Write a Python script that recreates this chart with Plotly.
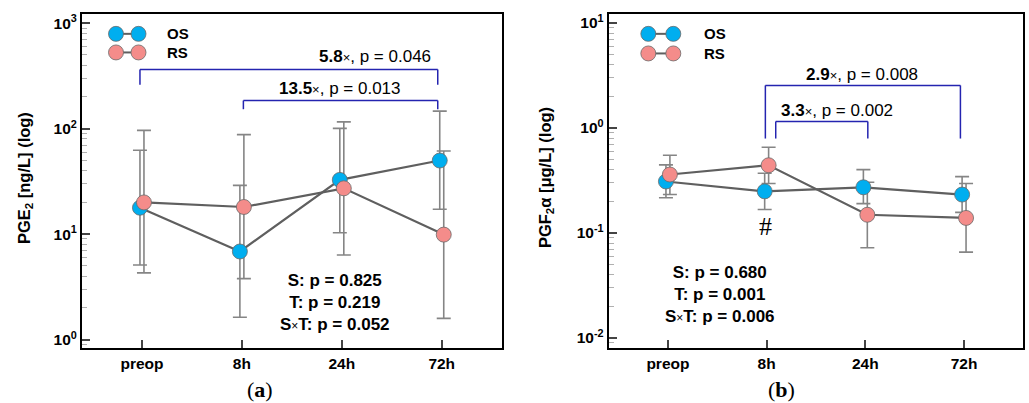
import numpy as np
import plotly.graph_objects as go

W, H = 1029, 403

timepoints = ["preop", "8h", "24h", "72h"]

# Panel (a): PGE2 [ng/L]
pge2_os = [17.8, 6.85, 32.7, 49.9]
pge2_os_upper = [62.5, 29.0, 100.6, 146.6]
pge2_os_lower = [5.1, 1.63, 10.3, 17.2]
pge2_rs = [20.0, 18.1, 27.2, 9.9]
pge2_rs_upper = [96.4, 87.8, 116.0, 61.5]
pge2_rs_lower = [4.29, 3.79, 6.34, 1.59]

# Panel (b): PGF2alpha [ug/L]
pgf2a_os = [0.309, 0.249, 0.272, 0.232]
pgf2a_os_upper = [0.445, 0.370, 0.401, 0.344]
pgf2a_os_lower = [0.216, 0.167, 0.190, 0.157]
pgf2a_rs = [0.360, 0.441, 0.149, 0.139]
pgf2a_rs_upper = [0.549, 0.654, 0.304, 0.296]
pgf2a_rs_lower = [0.232, 0.296, 0.0723, 0.0657]

ytick_vals_a = [1, 10, 100, 1000]
ytick_text_a = ["10<sup>0</sup>", "10<sup>1</sup>", "10<sup>2</sup>", "10<sup>3</sup>"]
ytick_vals_b = [0.01, 0.1, 1, 10]
ytick_text_b = ["10<sup>-2</sup>", "10<sup>-1</sup>", "10<sup>0</sup>", "10<sup>1</sup>"]

stats_a = ["0.825", "0.219", "0.052"]
stats_b = ["0.680", "0.001", "0.006"]

OS_COLOR = "#00AEEF"
RS_COLOR = "#F48C8A"
LINE_COLOR = "#5F5F5F"
ERR_COLOR = "#858585"
BRACKET = "#2424B0"
FONT = "Liberation Sans"

fig = go.Figure()

def px_x(p):
    return p / W

def px_y(p):
    return 1 - p / H

def add_panel(xa, ya, os_v, os_u, os_l, rs_v, rs_u, rs_l):
    idx = np.arange(len(timepoints))
    series = [
        (idx - 0.02, os_v, os_u, os_l, OS_COLOR),
        (idx + 0.02, rs_v, rs_u, rs_l, RS_COLOR),
    ]
    for xs, v, u, l, c in series:
        v = np.array(v); u = np.array(u); l = np.array(l)
        fig.add_trace(go.Scatter(
            x=xs, y=v, mode="lines", xaxis=xa, yaxis=ya, showlegend=False,
            line=dict(color=LINE_COLOR, width=2.2),
            error_y=dict(type="data", symmetric=False, array=u - v,
                         arrayminus=v - l, color=ERR_COLOR, thickness=1.6,
                         width=7),
        ))
    for xs, v, u, l, c in series:
        fig.add_trace(go.Scatter(
            x=xs, y=v, mode="markers", xaxis=xa, yaxis=ya, showlegend=False,
            marker=dict(size=15, color=c, line=dict(color="#6A6A6A", width=0.8)),
        ))

add_panel("x", "y", pge2_os, pge2_os_upper, pge2_os_lower,
          pge2_rs, pge2_rs_upper, pge2_rs_lower)
add_panel("x2", "y2", pgf2a_os, pgf2a_os_upper, pgf2a_os_lower,
          pgf2a_rs, pgf2a_rs_upper, pgf2a_rs_lower)

tickfont = dict(family=FONT, size=15.5, color="black", weight="bold")
xcommon = dict(range=[-0.6, 3.6], tickmode="array", tickvals=list(range(4)),
               ticktext=timepoints, ticks="inside", ticklen=8, tickwidth=1.5,
               tickcolor="#444444", showline=True, linecolor="black",
               linewidth=2, mirror=True, showgrid=False, zeroline=False,
               tickfont=tickfont)
ycommon = dict(type="log", tickmode="array", ticks="inside",
               ticklen=8, tickwidth=1.5, tickcolor="#444444", showline=True,
               linecolor="black", linewidth=2, mirror=True, showgrid=False,
               zeroline=False, tickfont=tickfont,
               minor=dict(ticks="inside", ticklen=5, tickcolor="#B0B0B0",
                          tickwidth=1, dtick="D1", showgrid=False))

fig.update_layout(
    width=W, height=H, margin=dict(l=0, r=0, t=0, b=0),
    paper_bgcolor="white", plot_bgcolor="white",
    xaxis=dict(domain=[82 / W, 501.7 / W], anchor="y", **xcommon),
    xaxis2=dict(domain=[608.7 / W, 1023.3 / W], anchor="y2", **xcommon),
    yaxis=dict(domain=[1 - 348 / H, 1 - 12 / H], anchor="x",
               range=[-0.082, 3.088], tickvals=ytick_vals_a,
               ticktext=ytick_text_a, **ycommon),
    yaxis2=dict(domain=[1 - 347.7 / H, 1 - 12 / H], anchor="x2",
                range=[-2.095, 1.085], tickvals=ytick_vals_b,
                ticktext=ytick_text_b, **ycommon),
    font=dict(family=FONT, color="black"),
)

shapes = []
annotations = []

def ann(**kw):
    kw.setdefault("showarrow", False)
    kw.setdefault("xanchor", "center")
    kw.setdefault("yanchor", "middle")
    annotations.append(kw)

def bracket(xref, yref, x0, x1, ytop, ybot0, ybot1):
    for (a, b, c, d) in [(x0, ybot0, x0, ytop), (x0, ytop, x1, ytop), (x1, ytop, x1, ybot1)]:
        shapes.append(dict(type="line", xref=xref, yref=yref, x0=a, y0=b,
                           x1=c, y1=d, line=dict(color=BRACKET, width=1.5)))

def btext(xref, yref, x, y, fold, p):
    ann(xref=xref, yref=yref, x=x, y=y,
        text=f"<b>{fold}</b><span style='font-size:13px'>×</span>, p = {p}",
        font=dict(family=FONT, size=17, color="black"))

# Panel a brackets
bracket("x", "y domain", -0.02, 2.96, 0.834, 0.788, 0.788)
btext("x", "y domain", 2.33, 0.872, "5.8", "0.046")
bracket("x", "y domain", 1.015, 2.96, 0.741, 0.715, 0.715)
btext("x", "y domain", 1.985, 0.776, "13.5", "0.013")

# Panel b brackets
bracket("x2", "y2 domain", 0.987, 2.963, 0.786, 0.627, 0.627)
btext("x2", "y2 domain", 1.965, 0.820, "2.9", "0.008")
bracket("x2", "y2 domain", 1.092, 2.025, 0.678, 0.627, 0.627)
btext("x2", "y2 domain", 1.715, 0.711, "3.3", "0.002")

def stats(xref, yref, x, y, vals):
    txt = (f"<b>S: p = {vals[0]}</b><br><b>T: p = {vals[1]}</b><br>"
           f"<b>S</b><span style='font-size:12px'>×</span><b>T: p = {vals[2]}</b>")
    ann(xref=xref, yref=yref, x=x, y=y, text=txt, align="center",
        font=dict(family=FONT, size=17, color="black"))

stats("x", "y domain", 1.93, (348 - 302.5) / 336, stats_a)
stats("x2", "y2 domain", 0.53, (347.7 - 293.5) / 335.7, stats_b)

# '#' marker
ann(xref="x2", yref="y2 domain", x=0.99, y=(347.7 - 226) / 335.7, text="#",
    font=dict(family="Liberation Serif", size=26, color="black"))

# Y titles
ann(xref="paper", yref="paper", x=25 / W, y=px_y(177), textangle=-90,
    text="<b>PGE<sub>2</sub> [ng/L] (log)</b>",
    font=dict(family=FONT, size=16.5, color="black"))
ann(xref="paper", yref="paper", x=546 / W, y=px_y(177), textangle=-90,
    text="<b>PGF<sub>2</sub>α [μg/L] (log)</b>",
    font=dict(family=FONT, size=16.5, color="black"))

# Panel labels
ann(xref="paper", yref="paper", x=260 / W, y=px_y(389), text="(<b>a</b>)",
    font=dict(family="Liberation Serif", size=22, color="black"))
ann(xref="paper", yref="paper", x=781 / W, y=px_y(389), text="(<b>b</b>)",
    font=dict(family="Liberation Serif", size=22, color="black"))

# Custom legends
def legend(xa, xb, xt, rows):
    for (label, color, yp) in rows:
        yy = px_y(yp)
        shapes.append(dict(type="line", xref="paper", yref="paper",
                           x0=px_x(xa), x1=px_x(xb), y0=yy, y1=yy,
                           line=dict(color=LINE_COLOR, width=2)))
        for xc in (xa, xb):
            shapes.append(dict(type="circle", xref="paper", yref="paper",
                               xsizemode="pixel", ysizemode="pixel",
                               xanchor=px_x(xc), yanchor=yy,
                               x0=-7.5, x1=7.5, y0=-7.5, y1=7.5,
                               fillcolor=color, line=dict(color="#6A6A6A", width=0.8)))
        ann(xref="paper", yref="paper", x=px_x(xt), y=yy, xanchor="left",
            text=f"<b>{label}</b>",
            font=dict(family=FONT, size=15, color="black"))

legend(116, 138.5, 165, [("OS", OS_COLOR, 32), ("RS", RS_COLOR, 50.7)])
legend(648.3, 673.3, 702, [("OS", OS_COLOR, 32), ("RS", RS_COLOR, 51.7)])

fig.update_layout(shapes=shapes, annotations=annotations)
fig.write_html("out.html", config={"displayModeBar": False},
               post_script="document.body.style.margin='0';document.body.style.overflow='hidden';")
